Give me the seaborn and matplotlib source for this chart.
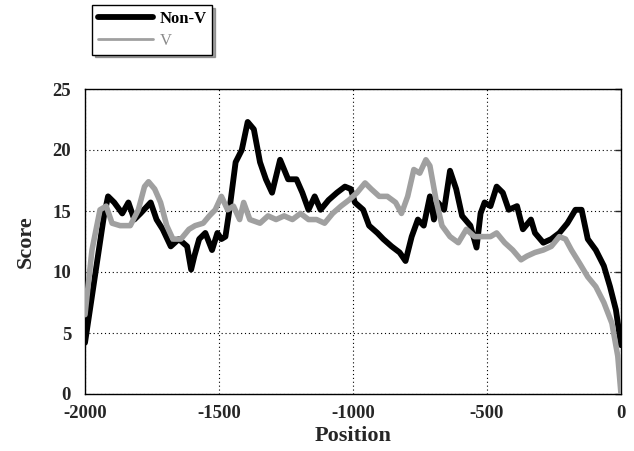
import numpy as np
import pandas as pd
import matplotlib
matplotlib.use("Agg")
import matplotlib.pyplot as plt
import seaborn as sns

# Non-V series (black)
nonv_pos = [-2000, -1930, -1914, -1891, -1861, -1838, -1816, -1793, -1755, -1733,
            -1710, -1680, -1650, -1619, -1604, -1592, -1574, -1551, -1526, -1506,
            -1491, -1476, -1461, -1438, -1415, -1393, -1370, -1347, -1325, -1302,
            -1272, -1242, -1211, -1189, -1166, -1143, -1121, -1091, -1060, -1030,
            -1008, -993, -962, -940, -909, -887, -856, -826, -804, -781,
            -758, -736, -713, -698, -683, -660, -638, -615, -593, -562,
            -539, -524, -509, -487, -464, -441, -419, -388, -366, -336,
            -321, -290, -260, -230, -200, -170, -147, -124, -94, -64,
            -41, -19, 0]
nonv_score = [4.2, 14.5, 16.2, 15.7, 14.8, 15.7, 14.3, 14.8, 15.7, 14.3,
              13.5, 12.1, 12.7, 12.1, 10.2, 11.3, 12.7, 13.2, 11.8, 13.2,
              12.7, 12.9, 15.1, 19.0, 20.0, 22.3, 21.7, 19.0, 17.6, 16.5,
              19.2, 17.6, 17.6, 16.5, 15.1, 16.2, 15.1, 15.9, 16.5, 17.0,
              16.8, 15.7, 15.1, 13.8, 13.2, 12.7, 12.1, 11.6, 10.9, 12.9,
              14.3, 13.8, 16.2, 14.3, 15.7, 15.1, 18.3, 16.8, 14.6, 13.8,
              12.0, 14.8, 15.7, 15.4, 17.0, 16.5, 15.1, 15.4, 13.5, 14.3,
              13.2, 12.4, 12.7, 13.2, 14.0, 15.1, 15.1, 12.7, 11.8, 10.5,
              8.8, 6.9, 4.0]

# V series (grey)
v_pos = [-2000, -1974, -1944, -1921, -1899, -1869, -1831, -1801, -1778, -1763,
         -1740, -1718, -1695, -1672, -1642, -1612, -1589, -1559, -1536, -1514,
         -1491, -1468, -1446, -1423, -1408, -1385, -1347, -1317, -1287, -1257,
         -1226, -1196, -1166, -1136, -1106, -1076, -1045, -1015, -985, -955,
         -932, -902, -872, -841, -819, -796, -773, -751, -728, -713,
         -690, -668, -638, -607, -577, -547, -517, -487, -464, -434,
         -404, -373, -351, -321, -290, -260, -230, -207, -185, -154,
         -124, -94, -64, -34, -12, 0]
v_score = [6.5, 11.8, 15.1, 15.4, 14.0, 13.8, 13.8, 15.1, 17.0, 17.4,
           16.8, 15.7, 13.8, 12.7, 12.7, 13.5, 13.8, 14.0, 14.6, 15.1,
           16.2, 15.1, 15.4, 14.3, 15.7, 14.3, 14.0, 14.6, 14.3, 14.6,
           14.3, 14.8, 14.3, 14.3, 14.0, 14.8, 15.4, 15.9, 16.5, 17.3,
           16.8, 16.2, 16.2, 15.7, 14.8, 16.2, 18.4, 18.1, 19.2, 18.7,
           15.9, 13.8, 12.9, 12.4, 13.5, 12.9, 12.9, 12.9, 13.2, 12.4,
           11.8, 11.0, 11.3, 11.6, 11.8, 12.1, 12.9, 12.7, 11.8, 10.7,
           9.6, 8.8, 7.5, 5.8, 3.1, 0.0]

x_ticks = [-2000, -1500, -1000, -500, 0]
y_ticks = [0, 5, 10, 15, 20, 25]

nonv = pd.DataFrame({"Position": nonv_pos, "Score": nonv_score})
v = pd.DataFrame({"Position": v_pos, "Score": v_score})

sns.set_style("white")
plt.rcParams["font.family"] = ["Liberation Serif", "DejaVu Serif"]

fig = plt.figure(figsize=(6.34, 4.51), dpi=100)
ax = fig.add_axes([85 / 634, 1 - 394 / 451, 536 / 634, 305 / 451])

sns.lineplot(data=nonv, x="Position", y="Score", ax=ax, color="black",
             linewidth=4.2, label="Non-V", zorder=3)
sns.lineplot(data=v, x="Position", y="Score", ax=ax, color="#a0a0a0",
             linewidth=4.0, label="V", zorder=4)

ax.set_xlim(-2000, 0)
ax.set_ylim(0, 25)
ax.set_xticks(x_ticks)
ax.set_yticks(y_ticks)
ax.set_xticklabels([str(t) for t in x_ticks], fontsize=13.5, fontweight="bold")
ax.set_yticklabels([str(t) for t in y_ticks], fontsize=13.5, fontweight="bold")
ax.tick_params(direction="in", length=4, width=1, right=True, top=False)
ax.tick_params(axis="x", pad=8)
ax.tick_params(axis="y", pad=10)
ax.grid(True, color="black", linestyle=(0, (1, 2.5)), linewidth=0.8)
for s in ax.spines.values():
    s.set_color("black")
    s.set_linewidth(1)

ax.set_xlabel("Position", fontsize=16, fontweight="bold", labelpad=3)
ax.set_ylabel("Score", fontsize=16, fontweight="bold", labelpad=12)

ax.get_legend().remove()
handles, labels = ax.get_legend_handles_labels()
leg = fig.legend(handles, labels, loc="upper left",
                 bbox_to_anchor=(92 / 634, 1 - 5 / 451), borderaxespad=0,
                 frameon=True, fancybox=False, shadow=True,
                 edgecolor="black", handlelength=3.3, handletextpad=0.4,
                 fontsize=12, borderpad=0.35, labelspacing=0.35)
leg.get_frame().set_linewidth(1)
for txt, col in zip(leg.get_texts(), ["black", "#8a8a8a"]):
    txt.set_fontweight("bold" if col == "black" else "normal")
    txt.set_color(col)
leg.get_lines()[1].set_linewidth(2)

fig.savefig("out.png", dpi=100)
